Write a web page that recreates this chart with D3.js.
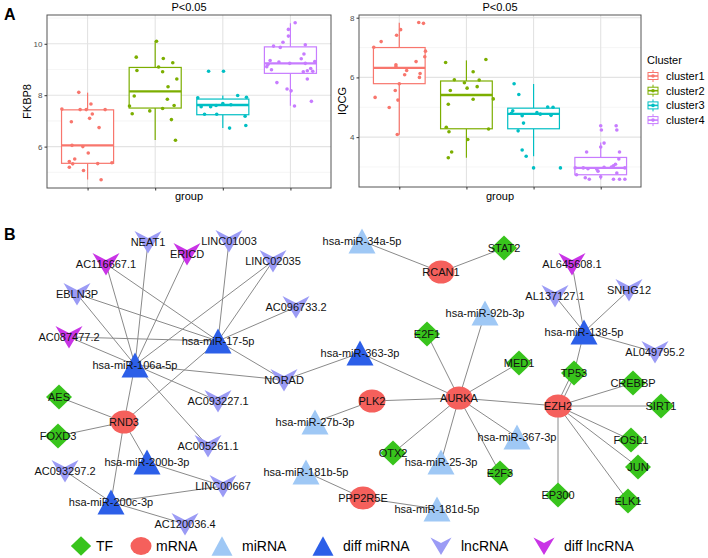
<!DOCTYPE html>
<html>
<head>
<meta charset="utf-8">
<script src="https://cdn.jsdelivr.net/npm/d3@7"></script>
<style>
body { margin: 0; background: #fff; }
text { font-family: "Liberation Sans", Arial, sans-serif; }
</style>
</head>
<body>
<svg id="fig" width="708" height="558"></svg>
<script>
// ---------- panel A data ----------
var clusters = ["cluster1", "cluster2", "cluster3", "cluster4"];
var clusterColors = ["#F8766D", "#7CAE00", "#00BFC4", "#C77CFF"];

// box stats: [lower whisker, q1, median, q3, upper whisker]
var fkbp8Box = [
    [4.72, 5.35, 6.05, 7.43, 8.10],
    [6.26, 7.50, 8.15, 9.08, 10.12],
    [6.72, 7.24, 7.62, 7.85, 7.99],
    [7.59, 8.85, 9.24, 9.88, 10.80]
];
var iqcgBox = [
    [4.08, 5.79, 6.32, 7.00, 7.83],
    [3.31, 4.28, 5.41, 5.88, 6.57],
    [3.36, 4.28, 4.78, 4.97, 5.78],
    [2.58, 2.74, 2.97, 3.32, 3.82]
];

// jittered points: [x jitter (group units), value]
var fkbp8Pts = [
    [[-0.13, 8.11], [0.05, 7.66], [-0.38, 7.46], [-0.11, 7.44], [-0.02, 7.44], [0.26, 7.44], [0.07, 7.27], [0.03, 7.10], [-0.24, 6.97], [0.17, 6.74], [-0.23, 6.05], [-0.07, 6.0], [0.01, 5.75], [-0.19, 5.52], [-0.27, 5.42], [-0.22, 5.33], [0.15, 5.34], [0.36, 5.37], [-0.27, 5.2], [-0.06, 5.07], [0.2, 4.71]],
    [[0.02, 10.1], [-0.28, 9.48], [0.12, 9.43], [0.26, 9.26], [0.05, 9.1], [-0.27, 8.96], [0.11, 8.91], [0.32, 8.63], [0.19, 8.33], [-0.31, 7.97], [0.18, 7.84], [-0.38, 7.58], [0.28, 7.6], [0.11, 7.48], [-0.08, 7.39], [-0.34, 7.28], [0.24, 7.05], [0.3, 6.25]],
    [[-0.21, 8.93], [0.01, 8.93], [-0.37, 7.9], [0.22, 7.99], [0.35, 7.92], [-0.32, 7.55], [-0.18, 7.55], [-0.1, 7.6], [0, 7.68], [0.12, 7.63], [-0.27, 7.26], [-0.09, 7.26], [0.33, 7.18], [0.1, 6.72], [0.34, 6.82]],
    [[0.07, 10.82], [-0.03, 10.56], [-0.03, 10.30], [-0.11, 10.06], [-0.25, 9.91], [-0.15, 9.86], [0.22, 9.96], [0.2, 9.6], [0.16, 9.42], [-0.3, 9.35], [-0.17, 9.29], [-0.01, 9.24], [-0.33, 9.2], [0.22, 9.24], [0.36, 9.31], [-0.35, 9.11], [-0.28, 8.99], [0.3, 9.04], [0.25, 8.95], [0.19, 8.91], [0.33, 8.93], [0.25, 8.63], [-0.2, 8.49], [-0.05, 8.24], [0.01, 8.17], [0.31, 7.76], [0.06, 7.58]]
];
var iqcgPts = [
    [[0.29, 7.84], [0.36, 7.81], [0.02, 7.6], [-0.04, 7.41], [-0.27, 7.2], [-0.38, 7.01], [0.39, 6.88], [0.38, 6.69], [0.25, 6.53], [-0.05, 6.42], [-0.05, 6.36], [0.11, 6.23], [0.08, 6.09], [0.31, 6.13], [0.3, 6.0], [0, 5.79], [-0.06, 5.56], [-0.36, 5.33], [-0.02, 5.24], [-0.15, 4.99], [-0.03, 4.09]],
    [[0.29, 6.6], [-0.31, 6.5], [0.1, 6.19], [-0.18, 5.92], [0.19, 5.91], [-0.03, 5.82], [-0.24, 5.56], [0.16, 5.69], [0.01, 5.64], [0.4, 5.28], [0.1, 5.27], [-0.27, 5.1], [-0.3, 4.33], [-0.26, 4.18], [0.33, 4.27], [0.02, 3.92], [-0.22, 3.5], [-0.27, 3.31]],
    [[-0.29, 5.79], [-0.22, 5.43], [-0.31, 4.88], [-0.33, 4.8], [-0.17, 4.72], [0.05, 4.82], [0.1, 4.77], [0.21, 5.01], [0.29, 5.0], [0.26, 4.73], [-0.15, 4.47], [-0.23, 4.21], [-0.17, 3.57], [-0.11, 3.36], [0, 2.97], [0.4, 2.97]],
    [[0, 4.38], [0.01, 4.24], [0.23, 4.38], [0.24, 4.24], [0.05, 3.8], [0, 3.67], [-0.21, 3.5], [0.28, 3.5], [0.27, 3.27], [0.22, 3.09], [0.19, 3.04], [0.16, 3.0], [0.05, 2.99], [-0.06, 2.93], [-0.19, 2.94], [-0.26, 2.97], [-0.38, 2.97], [0.36, 2.97], [-0.04, 2.86], [0.24, 2.8], [-0.36, 2.74], [-0.23, 2.64], [-0.17, 2.59], [0, 2.67], [0.19, 2.59], [0.28, 2.59], [0.36, 2.59]]
];
var fkbp8Ticks = [6, 8, 10];
var fkbp8Minor = [5, 7, 9, 11];
var iqcgTicks = [4, 6, 8];
var iqcgMinor = [3, 5, 7];

// ---------- panel B data ----------
var nodeTypes = ["TF", "mRNA", "miRNA", "diff miRNA", "lncRNA", "diff lncRNA"];
var typeColors = ["#38c41c", "#f5605c", "#9fc8f5", "#2c5fe8", "#9b9bf5", "#c934e6"];

// name, type, layout x, layout y
var nodes = [
    ["NEAT1", "lncRNA", 148, 17], ["LINC01003", "lncRNA", 229, 16], ["LINC02035", "lncRNA", 273, 36],
    ["EBLN3P", "lncRNA", 77, 69], ["AC096733.2", "lncRNA", 296, 82], ["NORAD", "lncRNA", 284, 155],
    ["AC093227.1", "lncRNA", 218, 176], ["AC005261.1", "lncRNA", 208, 221], ["AC093297.2", "lncRNA", 65, 246],
    ["LINC00667", "lncRNA", 223, 261], ["AC120036.4", "lncRNA", 185, 299], ["AL137127.1", "lncRNA", 555, 71],
    ["SNHG12", "lncRNA", 629, 65], ["AL049795.2", "lncRNA", 655, 127],
    ["AC116667.1", "diff lncRNA", 106, 39], ["ERICD", "diff lncRNA", 187, 29], ["AC087477.2", "diff lncRNA", 69, 112],
    ["AL645608.1", "diff lncRNA", 572, 39],
    ["hsa-miR-17-5p", "diff miRNA", 218, 116], ["hsa-miR-106a-5p", "diff miRNA", 135, 140],
    ["hsa-miR-200b-3p", "diff miRNA", 147, 237], ["hsa-miR-200c-3p", "diff miRNA", 111, 277],
    ["hsa-miR-363-3p", "diff miRNA", 360, 128], ["hsa-miR-138-5p", "diff miRNA", 584, 107],
    ["hsa-miR-34a-5p", "miRNA", 362, 16], ["hsa-miR-92b-3p", "miRNA", 485, 88], ["hsa-miR-27b-3p", "miRNA", 315, 197],
    ["hsa-miR-181b-5p", "miRNA", 306, 247], ["hsa-miR-367-3p", "miRNA", 517, 212], ["hsa-miR-25-3p", "miRNA", 441, 237],
    ["hsa-miR-181d-5p", "miRNA", 437, 284],
    ["RND3", "mRNA", 124, 197], ["RCAN1", "mRNA", 441, 47], ["PLK2", "mRNA", 372, 176], ["AURKA", "mRNA", 459, 173],
    ["EZH2", "mRNA", 558, 181], ["PPP2R5E", "mRNA", 363, 273],
    ["AES", "TF", 59, 172], ["FOXD3", "TF", 58, 211], ["STAT2", "TF", 504, 23], ["E2F1", "TF", 427, 109],
    ["MED1", "TF", 519, 138], ["TP53", "TF", 574, 148], ["CREBBP", "TF", 633, 158], ["SIRT1", "TF", 661, 181],
    ["FOSL1", "TF", 631, 215], ["JUN", "TF", 638, 242], ["OTX2", "TF", 393, 228], ["E2F3", "TF", 500, 248],
    ["EP300", "TF", 558, 270], ["ELK1", "TF", 628, 276]
];

var edges = [
    ["hsa-miR-106a-5p", "NEAT1"], ["hsa-miR-106a-5p", "AC116667.1"], ["hsa-miR-106a-5p", "ERICD"],
    ["hsa-miR-106a-5p", "EBLN3P"], ["hsa-miR-106a-5p", "AC087477.2"], ["hsa-miR-106a-5p", "LINC02035"],
    ["hsa-miR-106a-5p", "NORAD"], ["hsa-miR-106a-5p", "AC093227.1"], ["hsa-miR-106a-5p", "AC005261.1"],
    ["hsa-miR-106a-5p", "RND3"],
    ["hsa-miR-17-5p", "AC116667.1"], ["hsa-miR-17-5p", "EBLN3P"], ["hsa-miR-17-5p", "AC087477.2"],
    ["hsa-miR-17-5p", "LINC01003"], ["hsa-miR-17-5p", "LINC02035"], ["hsa-miR-17-5p", "AC096733.2"],
    ["hsa-miR-17-5p", "NORAD"], ["hsa-miR-17-5p", "RND3"],
    ["RND3", "AES"], ["RND3", "FOXD3"], ["RND3", "hsa-miR-200b-3p"], ["RND3", "hsa-miR-200c-3p"],
    ["hsa-miR-200b-3p", "LINC00667"],
    ["hsa-miR-200c-3p", "AC093297.2"], ["hsa-miR-200c-3p", "LINC00667"], ["hsa-miR-200c-3p", "AC120036.4"],
    ["hsa-miR-363-3p", "NORAD"], ["hsa-miR-363-3p", "AURKA"],
    ["RCAN1", "hsa-miR-34a-5p"], ["RCAN1", "STAT2"],
    ["AURKA", "E2F1"], ["AURKA", "hsa-miR-92b-3p"], ["AURKA", "MED1"], ["AURKA", "PLK2"], ["AURKA", "EZH2"],
    ["AURKA", "OTX2"], ["AURKA", "hsa-miR-25-3p"], ["AURKA", "E2F3"], ["AURKA", "hsa-miR-367-3p"],
    ["PLK2", "hsa-miR-27b-3p"],
    ["PPP2R5E", "hsa-miR-181b-5p"], ["PPP2R5E", "hsa-miR-181d-5p"],
    ["EZH2", "TP53"], ["EZH2", "TP53"], ["EZH2", "CREBBP"], ["EZH2", "SIRT1"], ["EZH2", "FOSL1"],
    ["EZH2", "JUN"], ["EZH2", "ELK1"], ["EZH2", "EP300"],
    ["hsa-miR-138-5p", "AL645608.1"], ["hsa-miR-138-5p", "AL137127.1"], ["hsa-miR-138-5p", "SNHG12"],
    ["hsa-miR-138-5p", "AL049795.2"], ["hsa-miR-138-5p", "TP53"]
];

var svg = d3.select("#fig");

// panel letters
svg.append("text").attr("x", 4).attr("y", 20).text("A")
    .style("font-size", "16px").style("font-weight", "bold");
svg.append("text").attr("x", 4).attr("y", 240).text("B")
    .style("font-size", "16px").style("font-weight", "bold");

function boxPanel(opt) {
    var g = svg.append("g");
    var x = d3.scaleLinear().domain([0.4, 4.6]).range([opt.x0, opt.x1]);
    var y = d3.scaleLinear().domain(opt.domain).range([opt.y1, opt.y0]);

    // grid
    g.selectAll(null).data(opt.minor).enter().append("line")
        .attr("x1", opt.x0).attr("x2", opt.x1)
        .attr("y1", function (d) { return y(d); }).attr("y2", function (d) { return y(d); })
        .attr("stroke", "#f0f0f0").attr("stroke-width", 0.7);
    g.selectAll(null).data(opt.ticks).enter().append("line")
        .attr("x1", opt.x0).attr("x2", opt.x1)
        .attr("y1", function (d) { return y(d); }).attr("y2", function (d) { return y(d); })
        .attr("stroke", "#e3e3e3").attr("stroke-width", 1.1);
    g.selectAll(null).data([1, 2, 3, 4]).enter().append("line")
        .attr("x1", function (d) { return x(d); }).attr("x2", function (d) { return x(d); })
        .attr("y1", opt.y0).attr("y2", opt.y1)
        .attr("stroke", "#e3e3e3").attr("stroke-width", 1.1);

    // boxes
    var bw = 0.385;
    opt.box.forEach(function (s, i) {
        var c = clusterColors[i], cx = i + 1;
        g.append("line").attr("x1", x(cx)).attr("x2", x(cx)).attr("y1", y(s[0])).attr("y2", y(s[1]))
            .attr("stroke", c).attr("stroke-width", 1.2);
        g.append("line").attr("x1", x(cx)).attr("x2", x(cx)).attr("y1", y(s[3])).attr("y2", y(s[4]))
            .attr("stroke", c).attr("stroke-width", 1.2);
        g.append("rect").attr("x", x(cx - bw)).attr("width", x(cx + bw) - x(cx - bw))
            .attr("y", y(s[3])).attr("height", y(s[1]) - y(s[3]))
            .attr("fill", "#fff").attr("stroke", c).attr("stroke-width", 1.2);
        g.append("line").attr("x1", x(cx - bw)).attr("x2", x(cx + bw)).attr("y1", y(s[2])).attr("y2", y(s[2]))
            .attr("stroke", c).attr("stroke-width", 2.4);
    });

    // jitter points
    opt.pts.forEach(function (pts, i) {
        g.selectAll(null).data(pts).enter().append("circle")
            .attr("cx", function (d) { return x(i + 1 + d[0]); })
            .attr("cy", function (d) { return y(d[1]); })
            .attr("r", 1.8)
            .attr("fill", clusterColors[i]);
    });

    // border
    g.append("rect").attr("x", opt.x0).attr("y", opt.y0)
        .attr("width", opt.x1 - opt.x0).attr("height", opt.y1 - opt.y0)
        .attr("fill", "none").attr("stroke", "#555").attr("stroke-width", 1);

    // axes
    var ya = g.append("g").attr("transform", "translate(" + opt.x0 + ",0)")
        .call(d3.axisLeft(y).tickValues(opt.ticks).tickFormat(d3.format("d")).tickSize(2.5).tickPadding(2));
    var xa = g.append("g").attr("transform", "translate(0," + opt.y1 + ")")
        .call(d3.axisBottom(x).tickValues([1, 2, 3, 4]).tickFormat("").tickSize(2.5));
    [ya, xa].forEach(function (a) {
        a.select(".domain").remove();
        a.selectAll("line").attr("stroke", "#333");
        a.selectAll("text").style("font-size", "8px").attr("fill", "#4d4d4d")
            .style("font-family", "Liberation Sans, Arial, sans-serif");
    });

    var mid = (opt.x0 + opt.x1) / 2;
    g.append("text").attr("x", mid).attr("y", 11).attr("text-anchor", "middle")
        .style("font-size", "11px").text("P<0.05");
    g.append("text").attr("x", mid).attr("y", 200).attr("text-anchor", "middle")
        .style("font-size", "11px").text("group");
    g.append("text").attr("transform", "translate(" + opt.labX + "," + ((opt.y0 + opt.y1) / 2) + ") rotate(-90)")
        .attr("text-anchor", "middle").style("font-size", "11px").text(opt.ylab);
}

boxPanel({x0: 47, x1: 331, y0: 15, y1: 188, domain: [4.39, 11.12], ticks: fkbp8Ticks, minor: fkbp8Minor,
    box: fkbp8Box, pts: fkbp8Pts, ylab: "FKBP8", labX: 31});
boxPanel({x0: 359, x1: 641, y0: 15, y1: 187, domain: [2.33, 8.09], ticks: iqcgTicks, minor: iqcgMinor,
    box: iqcgBox, pts: iqcgPts, ylab: "IQCG", labX: 346});

// cluster legend
var leg = svg.append("g").attr("transform", "translate(647,0)");
leg.append("text").attr("x", 0).attr("y", 64).style("font-size", "11px").text("Cluster");
clusters.forEach(function (c, i) {
    var cy = 76 + i * 14.7, col = clusterColors[i];
    leg.append("line").attr("x1", 6).attr("x2", 6).attr("y1", cy - 6).attr("y2", cy + 6)
        .attr("stroke", col).attr("stroke-width", 1);
    leg.append("rect").attr("x", 1).attr("y", cy - 3.5).attr("width", 10).attr("height", 7)
        .attr("fill", "#fff").attr("stroke", col).attr("stroke-width", 1);
    leg.append("line").attr("x1", 1).attr("x2", 11).attr("y1", cy).attr("y2", cy)
        .attr("stroke", col).attr("stroke-width", 1.6);
    leg.append("circle").attr("cx", 6).attr("cy", cy).attr("r", 1.8).attr("fill", col);
    leg.append("text").attr("x", 19).attr("y", cy + 4).style("font-size", "11px").text(c);
});

// ---------- panel B network ----------
var nx = d3.scaleLinear().domain([0, 708]).range([0, 708]);
var ny = d3.scaleLinear().domain([0, 330]).range([225, 555]);
var color = d3.scaleOrdinal().domain(nodeTypes).range(typeColors);

var shapePath = {
    "TF": "M0,-12.5L13,0L0,12.5L-13,0Z",
    "miRNA": "M0,-12.5L13.5,12.5L-13.5,12.5Z",
    "diff miRNA": "M0,-12.5L13.5,12.5L-13.5,12.5Z",
    "lncRNA": "M-13.5,-11L0,-4L13.5,-11L0,11.5Z",
    "diff lncRNA": "M-13.5,-11L0,-4L13.5,-11L0,11.5Z"
};

var pos = {};
nodes.forEach(function (n) { pos[n[0]] = [nx(n[2]), ny(n[3])]; });

// edges, repeated pairs drawn side by side
var seen = {};
var net = svg.append("g");
edges.forEach(function (e) {
    var a = pos[e[0]], b = pos[e[1]], k = e[0] + "|" + e[1];
    var off = 0;
    if (seen[k]) off = 1.6; else if (edges.filter(function (f) { return f[0] + "|" + f[1] == k; }).length > 1) off = -1.6;
    seen[k] = true;
    var dx = b[0] - a[0], dy = b[1] - a[1], len = Math.sqrt(dx * dx + dy * dy);
    var ox = -dy / len * off, oy = dx / len * off;
    net.append("line")
        .attr("x1", a[0] + ox).attr("y1", a[1] + oy).attr("x2", b[0] + ox).attr("y2", b[1] + oy)
        .attr("stroke", "#8a8a8a").attr("stroke-width", 1);
});

function drawShape(g, type, x, y, s) {
    if (type == "mRNA") {
        g.append("ellipse").attr("cx", x).attr("cy", y).attr("rx", 13.5 * s).attr("ry", 11.5 * s)
            .attr("fill", color(type));
    } else {
        g.append("path").attr("d", shapePath[type])
            .attr("transform", "translate(" + x + "," + y + ") scale(" + s + ")")
            .attr("fill", color(type));
    }
}

nodes.forEach(function (n) { drawShape(net, n[1], pos[n[0]][0], pos[n[0]][1], 1); });
net.selectAll(null).data(nodes).enter().append("text")
    .attr("x", function (d) { return pos[d[0]][0]; })
    .attr("y", function (d) { return pos[d[0]][1] + 4; })
    .attr("text-anchor", "middle")
    .style("font-size", "11px")
    .attr("fill", "#111")
    .text(function (d) { return d[0]; });

// type legend
var legX = [81, 141, 222, 323, 441, 544];
var lg = svg.append("g");
nodeTypes.forEach(function (t, i) {
    drawShape(lg, t, legX[i], 546, 0.78);
    lg.append("text").attr("x", legX[i] + (t == "mRNA" || t == "TF" ? 15 : 20)).attr("y", 551)
        .style("font-size", "14px").text(t);
});
</script>
</body>
</html>
